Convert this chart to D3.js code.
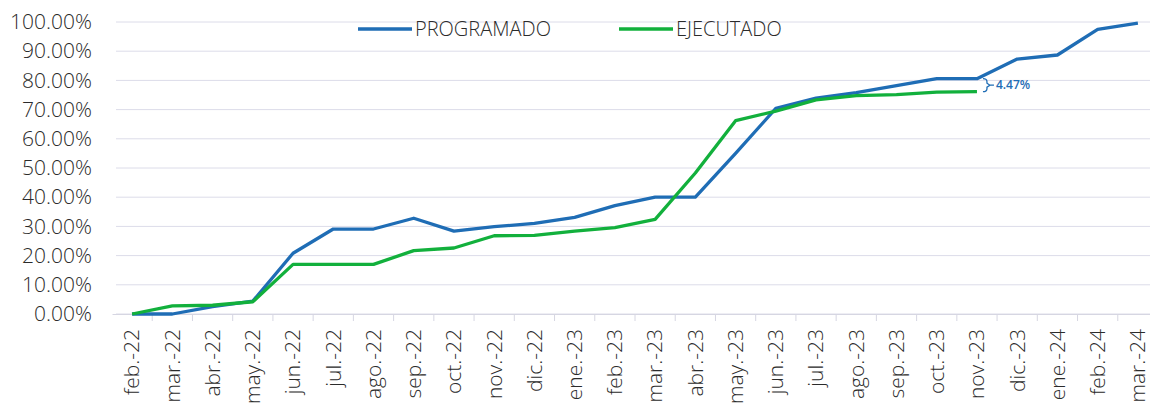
<!DOCTYPE html>
<html>
<head>
<meta charset="utf-8">
<script src="https://cdn.jsdelivr.net/npm/d3@7"></script>
<style>
  body { margin: 0; background: #fff; }
  svg { display: block; font-family: "Open Sans", sans-serif; }
</style>
</head>
<body>
<script>
var months = ['feb.-22','mar.-22','abr.-22','may.-22','jun.-22','jul.-22','ago.-22','sep.-22','oct.-22','nov.-22','dic.-22','ene.-23',
  'feb.-23','mar.-23','abr.-23','may.-23','jun.-23','jul.-23','ago.-23','sep.-23','oct.-23','nov.-23','dic.-23','ene.-24','feb.-24','mar.-24'];
var programado = [0, 0, 2.5, 4.4, 20.8, 29.1, 29.1, 32.8, 28.4, 29.9, 31.0, 33.1,
  37.1, 40.0, 40.0, 55.0, 70.4, 73.9, 75.8, 78.2, 80.6, 80.6, 87.3, 88.7, 97.5, 99.6];
var ejecutado = [0, 2.8, 3.0, 4.2, 17.0, 17.0, 17.0, 21.7, 22.6, 26.8, 26.9, 28.4,
  29.6, 32.4, 48.3, 66.2, 69.5, 73.3, 74.8, 75.1, 76.0, 76.13];
var yTicks = [0, 10, 20, 30, 40, 50, 60, 70, 80, 90, 100];
var gapLabel = '4.47%';

var blue = '#1f6db5', green = '#12b03c', textColor = '#2b2b2b';

var svg = d3.select('body').append('svg').attr('width', 1150).attr('height', 410);

var x = d3.scaleBand().domain(months).range([112, 1158]);
var cx = function (d, i) { return x(months[i]) + x.bandwidth() / 2; };
var y = d3.scaleLinear().domain([0, 100]).range([314, 22]);

// gridlines
svg.append('g').selectAll('line').data(yTicks).enter().append('line')
  .attr('x1', 116).attr('x2', 1150)
  .attr('y1', function (d) { return y(d); }).attr('y2', function (d) { return y(d); })
  .attr('stroke', '#dcdce9').attr('stroke-width', 1);

// y labels
var yAxis = d3.axisLeft(y).tickValues(yTicks).tickSize(0).tickPadding(0)
  .tickFormat(function (d) { return d.toFixed(2) + '%'; });
var gy = svg.append('g').attr('transform', 'translate(92,0)').call(yAxis);
gy.select('.domain').remove();
gy.selectAll('text').attr('font-size', 21).attr('font-weight', 300).attr('fill', textColor)
  .attr('font-family', '"Open Sans", sans-serif');

// x axis ticks between categories
var xAxis = d3.axisBottom(x).tickSize(0).tickPadding(0);
var gx = svg.append('g').attr('transform', 'translate(0,314)').call(xAxis);
gx.select('.domain').attr('stroke', '#d6d6e2');
gx.selectAll('.tick text')
  .attr('transform', 'translate(0,15) rotate(-90)')
  .attr('text-anchor', 'end').attr('dy', '0.35em').attr('y', 0).attr('x', 0)
  .attr('font-size', 21).attr('font-weight', 300).attr('fill', textColor)
  .attr('font-family', '"Open Sans", sans-serif');
svg.append('g').selectAll('line').data(months.slice(1)).enter().append('line')
  .attr('x1', function (d) { return x(d); }).attr('x2', function (d) { return x(d); })
  .attr('y1', 314).attr('y2', 321)
  .attr('stroke', '#d6d6e2');

var line = d3.line().x(cx).y(function (d) { return y(d); });

svg.append('path').attr('d', line(programado)).attr('fill', 'none')
  .attr('stroke', blue).attr('stroke-width', 3.3).attr('stroke-linejoin', 'round');
svg.append('path').attr('d', line(ejecutado)).attr('fill', 'none')
  .attr('stroke', green).attr('stroke-width', 3.3).attr('stroke-linejoin', 'round');

// gap annotation
var last = ejecutado.length - 1;
var bx = cx(null, last) + 6;
var yTop = y(programado[last]), yBot = y(ejecutado[last]), yMid = (yTop + yBot) / 2;
svg.append('path')
  .attr('d', 'M' + bx + ',' + yTop + ' Q' + (bx + 4) + ',' + yTop + ' ' + (bx + 4) + ',' + (yTop + 3) +
    ' L' + (bx + 4) + ',' + (yMid - 2) + ' L' + (bx + 7) + ',' + yMid + ' L' + (bx + 4) + ',' + (yMid + 2) +
    ' L' + (bx + 4) + ',' + (yBot - 3) + ' Q' + (bx + 4) + ',' + yBot + ' ' + bx + ',' + yBot +
    ' M' + (bx + 7) + ',' + yMid + ' L' + (bx + 11) + ',' + yMid)
  .attr('fill', 'none').attr('stroke', blue).attr('stroke-width', 1.3);
svg.append('text').attr('x', bx + 13).attr('y', yMid).attr('dy', '0.35em')
  .attr('font-size', 12).attr('font-weight', 600).attr('fill', blue).text(gapLabel);

// legend
var legend = [{ name: 'PROGRAMADO', color: blue, x: 358 }, { name: 'EJECUTADO', color: green, x: 619 }];
var lg = svg.append('g').selectAll('g').data(legend).enter().append('g')
  .attr('transform', function (d) { return 'translate(' + d.x + ',29)'; });
lg.append('line').attr('x1', 0).attr('x2', 54).attr('y1', 0).attr('y2', 0)
  .attr('stroke', function (d) { return d.color; }).attr('stroke-width', 3.3);
lg.append('text').attr('x', 57).attr('dy', '0.35em').attr('font-size', 20).attr('font-weight', 300)
  .attr('fill', textColor).text(function (d) { return d.name; });
</script>
</body>
</html>
